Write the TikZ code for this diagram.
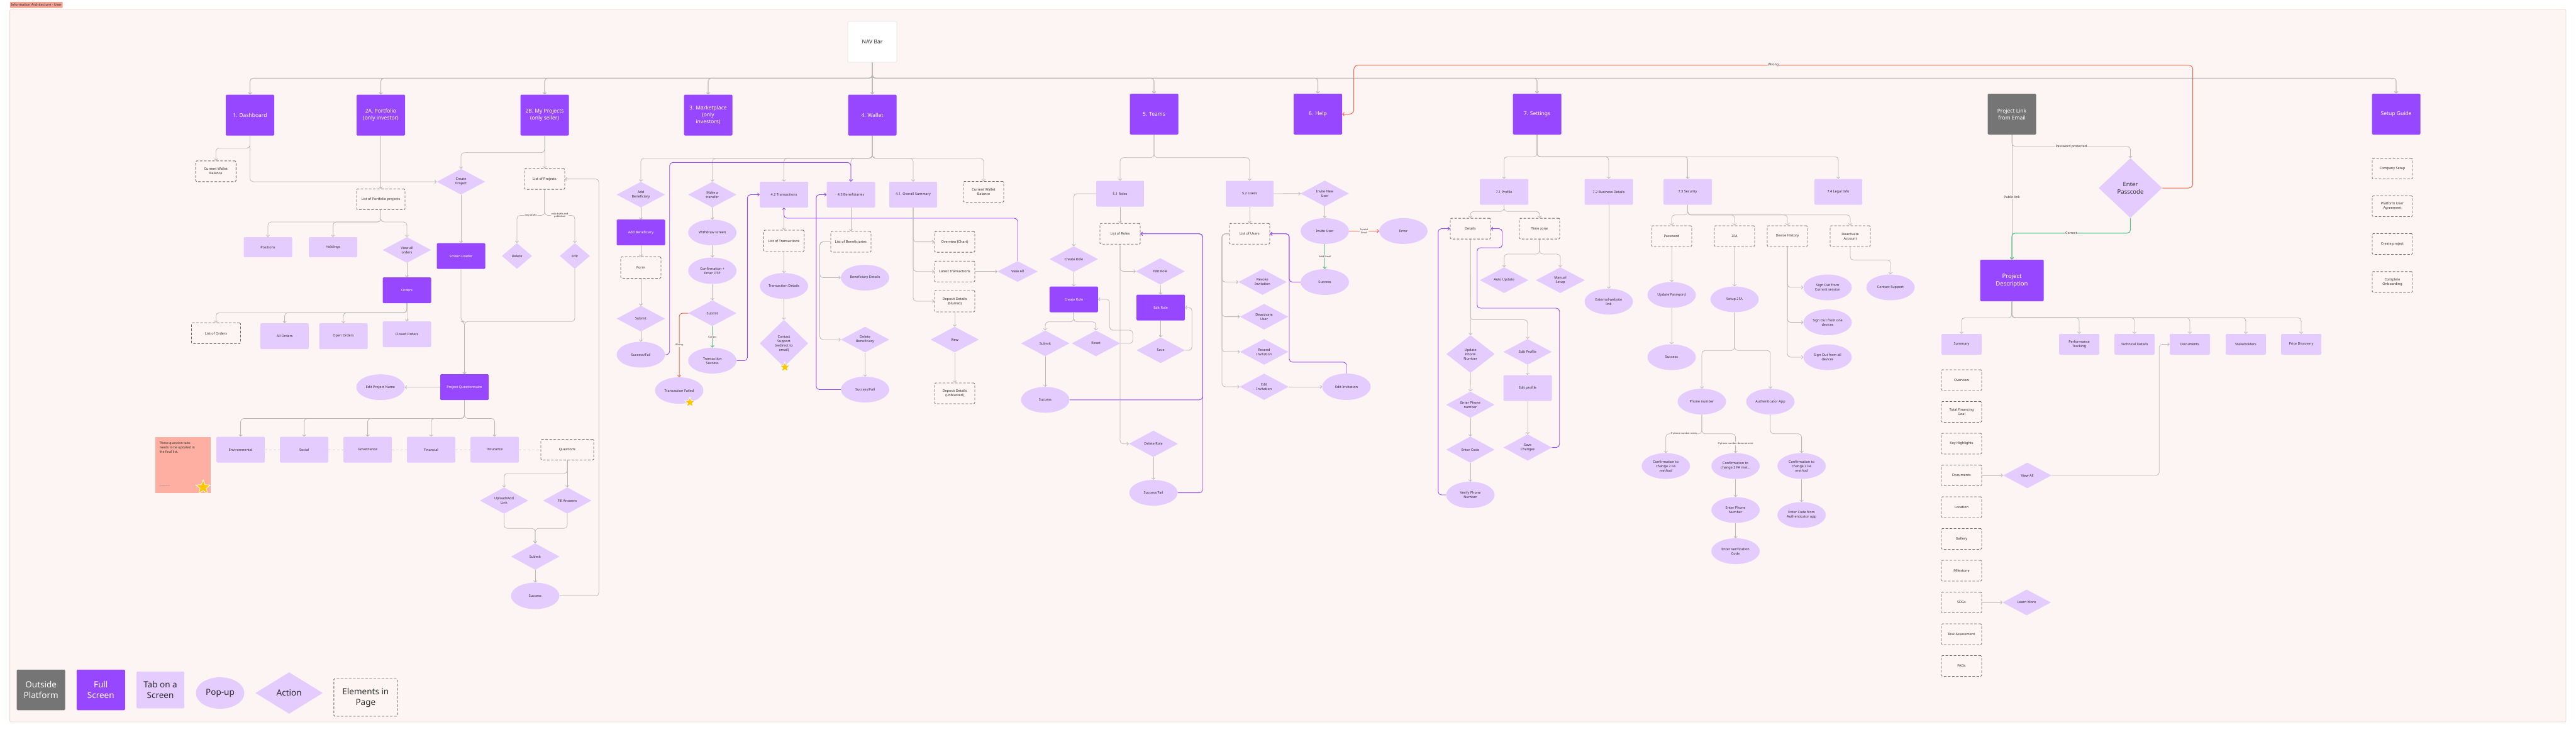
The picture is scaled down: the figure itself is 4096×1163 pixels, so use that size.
\documentclass[tikz,border=0pt]{standalone}
\usepackage{fontspec}
\setmainfont{Noto Sans}
\usetikzlibrary{shapes.geometric,arrows.meta,calc}
\pgfdeclarelayer{back}\pgfdeclarelayer{bg}
\pgfsetlayers{back,bg,main}
\definecolor{bgc}{HTML}{FDF5F3}
\definecolor{framec}{HTML}{F6D6D0}
\definecolor{fullc}{HTML}{9747FF}
\definecolor{tabc}{HTML}{E4CCFF}
\definecolor{grayc}{HTML}{757575}
\definecolor{dashc}{HTML}{6B6B6B}
\definecolor{linec}{HTML}{B9B9B9}
\definecolor{redc}{HTML}{F26B4F}
\definecolor{greenc}{HTML}{5CC08A}
\definecolor{txtc}{HTML}{2B2B2B}
\definecolor{notec}{HTML}{FFAFA2}
\definecolor{tagc}{HTML}{F4A294}
\definecolor{starc}{HTML}{FFC700}
\definecolor{navc}{HTML}{E2E2E2}
\definecolor{tdash}{HTML}{D8D0D0}
\begin{document}
\begin{tikzpicture}[x=1pt,y=-1pt,
 nbase/.style={align=center, inner sep=1pt, text=txtc, font=\fontsize{5.5}{7}\selectfont},
 sz/.style 2 args={minimum width=#1pt, minimum height=#2pt},
 full/.style={nbase, rectangle, rounded corners=1.5pt, fill=fullc, text=white, sz={77}{41}},
 topbox/.style={full, sz={77}{65}, font=\fontsize{8.5}{11}\selectfont},
 tab/.style={nbase, rectangle, rounded corners=1.5pt, fill=tabc, sz={77}{41}},
 pop/.style={nbase, ellipse, fill=tabc, sz={77}{41}, inner sep=0pt},
 act/.style={nbase, diamond, fill=tabc, sz={77}{41}, inner sep=0pt, aspect=2},
 elem/.style={nbase, rectangle, rounded corners=1.5pt, draw=dashc, fill=bgc, dash pattern=on 4pt off 2.5pt, line width=0.9pt, sz={64}{33}},
 con/.style={draw=linec, line width=0.8pt, rounded corners=5pt, -{Straight Barb[length=2.6pt,width=5.5pt]}},
 bus/.style={con, line width=1.1pt},
 pcon/.style={con, draw=fullc, line width=0.9pt},
 rcon/.style={con, draw=redc, line width=1pt},
 gcon/.style={con, draw=greenc, line width=1.1pt},
 lbl/.style={fill=bgc, inner sep=0.8pt, text=txtc, align=center, font=\fontsize{3.8}{4.6}\selectfont},
 lblb/.style={lbl, font=\fontsize{5.3}{6}\selectfont},
 tabline/.style={draw=tdash, line width=0.9pt, dash pattern=on 4pt off 3pt},
 starn/.style={star, star points=5, star point ratio=2.3, fill=starc, draw=white, line width=0.8pt, inner sep=0pt, minimum size=17pt}
]
\useasboundingbox (0,0) rectangle (4096,1163);
\begin{pgfonlayer}{back}
\fill[white] (0,0) rectangle (4096,1163);
\filldraw[fill=bgc, draw=framec, line width=0.8pt, rounded corners=2pt] (15.6,15.3) rectangle (4080,1148);
\end{pgfonlayer}

% title tag
\node[fill=tagc, rounded corners=1pt, inner sep=1.5pt, anchor=west, font=\fontsize{5.5}{6}\selectfont, minimum height=9.6pt, text=txtc] (tag) at (15.6,7.8) {Information Architecture - User};

% top level
\node[nbase, rectangle, fill=white, draw=navc, line width=0.6pt, rounded corners=1.5pt, sz={78}{65}, font=\fontsize{8.5}{10}\selectfont] (nav) at (1387,66.5) {NAV Bar};
\node[topbox] (dash) at (397.5,183) {1. Dashboard};
\node[topbox] (port) at (605.5,183) {2A. Portfolio\\(only investor)};
\node[topbox] (myp) at (866,183) {2B. My Projects\\(only seller)};
\node[topbox] (mkt) at (1126,183) {3. Marketplace\\(only\\investors)};
\node[topbox] (wal) at (1387,183) {4. Wallet};
\node[topbox] (team) at (1835,181.5) {5. Teams};
\node[topbox] (help) at (2095.5,181.5) {6. Help};
\node[topbox] (sett) at (2444,181.5) {7. Settings};
\node[topbox, fill=grayc] (plink) at (3199,181.5) {Project Link\\from Email};
\node[topbox] (setup) at (3810,181.5) {Setup Guide};

% Dashboard
\node[elem] (cwb1) at (343.3,272.3) {Current Wallet\\Balance};
% Portfolio
\node[elem, sz={77}{33}] (lpp) at (605.5,317) {List of Portfolio projects};
\node[tab, sz={77}{32}] (pos) at (426,393) {Positions};
\node[tab, sz={77}{32}] (hold) at (529.6,393) {Holdings};
\node[act] (vao) at (647,397.5) {View all\\orders};
\node[full] (orders) at (647,461.5) {Orders};
\node[elem, sz={78}{33}] (lo) at (343.5,530) {List of Orders};
\node[tab] (ao) at (452.6,534.5) {All Orders};
\node[tab] (oo) at (546,534.5) {Open Orders};
\node[tab] (co) at (647,531.5) {Closed Orders};
% My projects
\node[act] (cp) at (733,289) {Create\\Project};
\node[elem] (lop) at (866,284.6) {List of Projects};
\node[act, sz={48}{41}] (del) at (822,407) {Delete};
\node[act, sz={48}{41}] (edt) at (914,407) {Edit};
\node[full] (sl) at (733,407) {Screen Loader};
\node[full] (pq) at (738.5,615.7) {Project Questionnaire};
\node[pop] (epn) at (605,615.7) {Edit Project Name};
\node[tab] (env) at (382.6,715) {Environmental};
\node[tab] (soc) at (483.6,715) {Social};
\node[tab] (gov) at (584.6,715) {Governance};
\node[tab] (fin) at (685.5,715) {Financial};
\node[tab] (ins) at (786.6,715) {Insurance};
\node[elem, sz={84}{33}] (qs) at (902,715) {Questions};
\node[act, sz={77}{42}] (ual) at (801.5,796) {Upload/Add\\Link};
\node[act, sz={77}{42}] (fa) at (902,796) {Fill Answers};
\node[act, sz={77}{42}] (qsub) at (851,885) {Submit};
\node[pop, sz={77}{42}] (qsucc) at (851,947.5) {Success};
% sticky note
\node[fill=notec, minimum width=88pt, minimum height=89pt, inner sep=0pt] (note) at (290.6,739) {};
\node[anchor=north west, align=left, font=\fontsize{5.2}{7}\selectfont, text=txtc, inner sep=0pt] (notetxt) at (253.3,702.5) {These question tabs\\needs to be updated in\\the final list.};
\node[anchor=west, font=\fontsize{3}{3.5}\selectfont, text=black!45, inner sep=0pt] (noteauth) at (253.3,773) {pradyumna};
\node[starn, minimum size=24pt] (st1) at (323,775) {};

% Wallet
\node[act] (ab) at (1019,309.5) {Add\\Beneficiary};
\node[act] (mt) at (1132.7,309.5) {Make a\\transfer};
\node[tab] (t42) at (1246.5,309.5) {4.2 Transactions};
\node[tab] (b43) at (1353,309.5) {4.3 Beneficiaries};
\node[tab, sz={76}{41}] (s41) at (1452,309.5) {4.1. Overall Summary};
\node[elem] (cwb2) at (1564,305) {Current Wallet\\Balance};
\node[full] (abf) at (1019,369.7) {Add Beneficiary};
\node[elem, sz={64}{34}] (form) at (1019,425.5) {Form};
\node[act] (absub) at (1019,506.7) {Submit};
\node[pop] (absf) at (1019,564) {Success/Fail};
\node[pop] (ws) at (1132.7,369.7) {Withdraw screen};
\node[pop, sz={77}{42}] (conf) at (1132.7,430.5) {Confirmation +\\Enter OTP};
\node[act] (msub) at (1132.7,498) {Submit};
\node[pop] (ts) at (1132.7,573.5) {Transaction\\Success};
\node[pop, sz={77}{42}] (tf) at (1080,621) {Transaction Failed};
\node[starn] (st2) at (1097,640) {};
\node[elem, sz={64}{34}] (lot) at (1246.5,383) {List of Transactions};
\node[pop] (td) at (1246.5,454.7) {Transaction Details};
\node[act, sz={77}{75}, aspect=1] (cs) at (1246.5,546) {Contact\\Support\\(redirect to\\email)};
\node[starn] (st3) at (1248,584) {};
\node[elem] (lob) at (1353,384.5) {List of Beneficiaries};
\node[pop] (bd) at (1375.5,441.5) {Beneficiary Details};
\node[act] (dbn) at (1375.5,540) {Delete\\Beneficiary};
\node[pop] (bsf) at (1375.5,619.5) {Success/Fail};
\node[elem] (ovc) at (1518,384.6) {Overview (Chart)};
\node[elem] (lt) at (1518,431.7) {Latest Transactions};
\node[elem, sz={64}{34}] (ddb) at (1518,479) {Deposit Details\\(blurred)};
\node[act, sz={64}{33}] (va) at (1618,431.7) {View All};
\node[act] (vw) at (1518,540) {View};
\node[elem] (ddu) at (1518,625.5) {Deposit Details\\(unblurred)};

% Teams
\node[tab, sz={76}{41}] (r51) at (1781,308) {5.1 Roles};
\node[tab, sz={76}{41}] (u52) at (1987,308) {5.2 Users};
\node[elem] (lor) at (1781,371.7) {List of Roles};
\node[act] (crd) at (1707.3,412) {Create Role};
\node[full] (crf) at (1707.3,476) {Create Role};
\node[act] (rsub) at (1662,546) {Submit};
\node[act] (rres) at (1742.6,546) {Reset};
\node[pop] (rsucc) at (1662,635.8) {Success};
\node[act, sz={78}{42}] (edr) at (1845,431.5) {Edit Role};
\node[full] (edrf) at (1845.6,489) {Edit Role};
\node[act] (save) at (1845.6,557) {Save};
\node[act, sz={78}{42}] (dlr) at (1834,705.7) {Delete Role};
\node[pop] (dsf) at (1834,783.6) {Success/Fail};
\node[elem] (lou) at (1987,371.7) {List of Users};
\node[act] (inu) at (2106.5,307.7) {Invite New\\User};
\node[pop] (iu) at (2106.5,367.4) {Invite User};
\node[pop] (err) at (2231.5,367.4) {Error};
\node[pop] (usucc) at (2106.5,448.5) {Success};
\node[act] (ri) at (2007.5,448.4) {Revoke\\Invitation};
\node[act] (du) at (2010,503.6) {Deactivate\\User};
\node[act] (rsi) at (2010,559.5) {Resend\\Invitation};
\node[act, sz={78}{42}] (ei) at (2010,615) {Edit\\Invitation};
\node[pop, sz={77}{42}] (eie) at (2141,615) {Edit Invitation};

% Settings
\node[tab] (p71) at (2391.5,305) {7.1 Profile};
\node[tab] (b72) at (2558,305) {7.2 Business Details};
\node[tab] (s73) at (2683.5,305) {7.3 Security};
\node[tab, sz={76}{41}] (l74) at (2923,305) {7.4 Legal Info};
\node[pop] (ewl) at (2558,479.6) {External website\\link};
\node[elem] (det) at (2338,363.6) {Details};
\node[elem] (tz) at (2448,363.6) {Time zone};
\node[act] (au) at (2391.6,445.5) {Auto Update};
\node[act, sz={78}{41}] (ms) at (2481,445.5) {Manual\\Setup};
\node[act, sz={77}{60}] (upn) at (2338.2,563) {Update\\Phone\\Number};
\node[act] (ep) at (2429,559.5) {Edit Profile};
\node[tab] (epf) at (2429,617) {Edit profile};
\node[act, sz={77}{42}] (sc) at (2429,711.6) {Save\\Changes};
\node[act, sz={77}{42}] (epn2) at (2338,643.6) {Enter Phone\\number};
\node[act, sz={77}{42}] (ec) at (2338,715) {Enter Code};
\node[pop, sz={77}{42}] (vpn) at (2338,787) {Verify Phone\\Number};
\node[elem] (pw) at (2658,375.5) {Password};
\node[elem] (fa2) at (2758,375.5) {2FA};
\node[elem] (dh) at (2842,375.5) {Device History};
\node[elem] (da) at (2942,375.5) {Deactivate\\Account};
\node[pop] (up) at (2658,469) {Update Password};
\node[pop] (psucc) at (2658,568) {Success};
\node[pop] (s2fa) at (2758,476) {Setup 2FA};
\node[pop] (phn) at (2706,638.6) {Phone number};
\node[pop] (aap) at (2815,638.6) {Authenticator App};
\node[pop] (c2a) at (2648.7,741) {Confirmation to\\change 2 FA\\method};
\node[pop] (c2b) at (2759.6,741) {Confirmation to\\change 2 FA met...};
\node[pop] (c2c) at (2864.6,741) {Confirmation to\\change 2 FA\\method};
\node[pop] (epn3) at (2759.6,811) {Enter Phone\\Number};
\node[pop] (evc) at (2759.6,876.5) {Enter Verification\\Code};
\node[pop] (eca) at (2864.6,819) {Enter Code from\\Authenticator app};
\node[pop] (so1) at (2906,457) {Sign Out from\\Current session};
\node[pop] (so2) at (2906,512.6) {Sign Out from one\\devices};
\node[pop] (so3) at (2906,568) {Sign Out from all\\devices};
\node[pop] (csup) at (3006,457) {Contact Support};

% Project link
\node[act, sz={101}{95}, font=\fontsize{9.5}{12.5}\selectfont] (ep2) at (3387.5,299) {Enter\\Passcode};
\node[full, sz={101}{66}, font=\fontsize{9.5}{12.5}\selectfont] (pd) at (3199,446) {Project\\Description};
\node[tab, sz={64}{33}] (sum) at (3119,547.5) {Summary};
\node[tab, sz={64}{33}] (perf) at (3306,547.5) {Performance\\Tracking};
\node[tab, sz={64}{33}] (tech) at (3394,547.5) {Technical Details};
\node[tab, sz={64}{33}] (docs) at (3482,547.5) {Documents};
\node[tab, sz={64}{33}] (stak) at (3571,547.5) {Stakeholders};
\node[tab, sz={64}{33}] (price) at (3659,547.5) {Price Discovery};
\node[elem] (ov) at (3119,604.5) {Overview};
\node[elem] (tfg) at (3119,655) {Total Financing\\Goal};
\node[elem] (kh) at (3119,705.5) {Key Highlights};
\node[elem] (dcs) at (3119,756) {Documents};
\node[elem] (loc) at (3119,806.5) {Location};
\node[elem] (gal) at (3119,857) {Gallery};
\node[elem] (mil) at (3119,907.5) {Milestone};
\node[elem] (sdg) at (3119,958) {SDGs};
\node[elem] (ra) at (3119,1008.5) {Risk Assessment};
\node[elem] (faq) at (3119,1059) {FAQs};
\node[act] (vall) at (3223.5,756) {View All};
\node[act] (lm) at (3222.5,958) {Learn More};

% Setup guide
\node[elem] (csu) at (3804,268) {Company Setup};
\node[elem] (pua) at (3804,328) {Platform User\\Agreement};
\node[elem] (crp) at (3804,388) {Create project};
\node[elem] (cob) at (3804,448.3) {Complete\\Onboarding};

% Legend
\node[full, fill=grayc, sz={77}{64.5}, font=\fontsize{13.5}{17}\selectfont] (lg1) at (65.2,1097) {Outside\\Platform};
\node[full, sz={77}{64.5}, font=\fontsize{13.5}{17}\selectfont] (lg2) at (160.3,1097) {Full\\Screen};
\node[tab, sz={76}{58.5}, font=\fontsize{13.5}{17}\selectfont] (lg3) at (255,1097) {Tab on a\\Screen};
\node[pop, sz={77}{50}, font=\fontsize{13.5}{17}\selectfont] (lg4) at (350,1102) {Pop-up};
\node[act, sz={107}{66}, font=\fontsize{13.5}{17}\selectfont] (lg5) at (459.7,1102) {Action};
\node[elem, sz={101}{60}, font=\fontsize{13.5}{17}\selectfont] (lg6) at (581.4,1109) {Elements in\\Page};

\begin{pgfonlayer}{bg}
% nav bus
\foreach \t in {dash,port,myp,mkt,team,help,sett,setup}{
  \draw[bus] (nav.south) -- ++(0,25) -| (\t.north);
}
\draw[bus] (nav.south) -- (wal.north);

% dashboard
\draw[con] (dash.south) -- ++(0,20) -| (cwb1.north);
\draw[con] (dash.south) |- (cp.west);
% portfolio
\draw[con] (port.south) -- (lpp.north);
\foreach \t in {pos,hold,vao}{\draw[con] (lpp.south) -- ++(0,19) -| (\t.north);}
\draw[con] (vao.south) -- (orders.north);
\foreach \t in {lo,ao,oo,co}{\draw[con] (orders.south) -- ++(0,15) -| (\t.north);}
% my projects
\draw[con] (myp.south) -- ++(0,27) -| (cp.north);
\draw[con] (myp.south) -- (lop.north);
\draw[con] (lop.south) -- ++(0,41) -| node[lbl,pos=0.25]{only drafts} (del.north);
\draw[con] (lop.south) -- ++(0,41) -| node[lbl,pos=0.25]{only drafts and\\published} (edt.north);
\draw[con] (cp.south) -- (sl.north);
\draw[con] (sl.south) -- ++(0,83.5) -| (pq.north);
\draw[con] (edt.south) -- ++(0,83.5) -| (pq.north);
\draw[con] (qsucc.east) -- ++(62.5,0) |- (lop.east);
\draw[con] (pq.west) -- (epn.east);
\foreach \t in {env,soc,gov,fin,ins}{\draw[con] (pq.south) -- ++(0,29) -| (\t.north);}
\draw[tabline] (env.east) -- (soc.west);
\draw[tabline] (soc.east) -- (gov.west);
\draw[tabline] (gov.east) -- (fin.west);
\draw[tabline] (fin.east) -- (ins.west);
\draw[tabline] (ins.east) -- (qs.west);
\draw[con] (qs.south) -- ++(0,21) -| (ual.north);
\draw[con] (qs.south) -- (fa.north);
\draw[con] (ual.south) -- ++(0,23) -| (qsub.north);
\draw[con] (fa.south) -- ++(0,23) -| (qsub.north);
\draw[con] (qsub.south) -- (qsucc.north);

% wallet
\foreach \t in {ab,mt,t42,b43,s41,cwb2}{\draw[con] (wal.south) -- ++(0,36) -| (\t.north);}
\draw[con] (ab.south) -- (abf.north);
\draw[con] (abf.south) -- (form.north);
\draw[con] (form.south) -- (absub.north);
\draw[con] (absub.south) -- (absf.north);
\draw[pcon] (absf.east) -- ++(7,0) -- ++(0,-305.7) -| (b43.north);
\draw[con] (mt.south) -- (ws.north);
\draw[con] (ws.south) -- (conf.north);
\draw[con] (conf.south) -- (msub.north);
\draw[gcon] (msub.south) -- node[lbl]{Correct} (ts.north);
\draw[rcon] (msub.west) -| node[lbl,pos=0.75]{Wrong} (tf.north);
\draw[pcon] (ts.east) -- ++(17,0) |- (t42.west);
\draw[con] (t42.south) -- (lot.north);
\draw[pcon] (va.north) -- ++(0,-68) -| (t42.south);
\draw[con] (lot.south) -- (td.north);
\draw[con] (td.south) -- (cs.north);
\draw[con] (b43.south) -- (lob.north);
\draw[con] (lob.west) -- ++(-17,0) |- (bd.west);
\draw[con] (lob.west) -- ++(-17,0) |- (dbn.west);
\draw[con] (dbn.south) -- (bsf.north);
\draw[pcon] (bsf.west) -- ++(-39,0) |- (b43.west);
\draw[con] (s41.south) |- (ovc.west);
\draw[con] (s41.south) |- (lt.west);
\draw[con] (s41.south) |- (ddb.west);
\draw[con] (lt.east) -- (va.west);
\draw[con] (ddb.south) -- (vw.north);
\draw[con] (vw.south) -- (ddu.north);

% teams
\draw[con] (team.south) -- ++(0,36.5) -| (r51.north);
\draw[con] (team.south) -- ++(0,36.5) -| (u52.north);
\draw[con] (r51.south) -- (lor.north);
\draw[con] (r51.west) -| (crd.north);
\draw[con] (crd.south) -- (crf.north);
\draw[con] (crf.south) -- ++(0,15) -| (rsub.north);
\draw[con] (crf.south) -- ++(0,15) -| (rres.north);
\draw[con] (rres.east) -- ++(20,0) -- ++(0,-21) -- ++(-37,0) |- (crf.east);
\draw[con] (rsub.south) -- (rsucc.north);
\draw[pcon] (rsucc.east) -- ++(211.5,0) |- (lor.east);
\draw[con] (lor.south) |- (edr.west);
\draw[con] (edr.south) -- (edrf.north);
\draw[con] (edrf.south) -- (save.north);
\draw[con] (save.east) -- ++(11,0) |- (edrf.east);
\draw[con] (lor.south) |- (dlr.west);
\draw[con] (dlr.south) -- (dsf.north);
\draw[pcon] (dsf.east) -- ++(39.5,0) |- (lor.east);
\draw[con] (u52.south) -- (lou.north);
\draw[con] (u52.east) -- (inu.west);
\draw[con] (inu.south) -- (iu.north);
\draw[rcon] (iu.east) -- node[lbl]{Invalid\\Email} (err.west);
\draw[gcon] (iu.south) -- node[lbl]{Valid Email} (usucc.north);
\draw[pcon] (usucc.west) -- ++(-18,0) |- (lou.east);
\foreach \t in {ri,du,rsi,ei}{\draw[con] (lou.west) -- ++(-11.5,0) |- (\t.west);}
\draw[con] (ei.east) -- (eie.west);
\draw[pcon] (eie.north) -- ++(0,-18) -- ++(-91,0) |- (lou.east);

% settings
\foreach \t in {p71,b72,s73,l74}{\draw[con] (sett.south) -- ++(0,35) -| (\t.north);}
\draw[con] (b72.south) -- (ewl.north);
\draw[con] (p71.south) -- ++(0,10.5) -| (det.north);
\draw[con] (p71.south) -- ++(0,10.5) -| (tz.north);
\draw[con] (tz.south) -- ++(0,23.5) -| (au.north);
\draw[con] (tz.south) -- ++(0,23.5) -| (ms.north);
\draw[con] (det.south) -- (upn.north);
\draw[con] (det.south) -- ++(0,128) -| (ep.north);
\draw[con] (ep.south) -- (epf.north);
\draw[con] (epf.south) -- (sc.north);
\draw[pcon] (sc.east) -- ++(12,0) -- ++(0,-221.6) -- ++(-131,0) -- ++(0,-96) -- ++(40,0) |- (det.east);
\draw[con] (upn.south) -- (epn2.north);
\draw[con] (epn2.south) -- (ec.north);
\draw[con] (ec.south) -- (vpn.north);
\draw[pcon] (vpn.west) -- ++(-12.5,0) |- (det.west);
\foreach \t in {pw,fa2,dh,da}{\draw[con] (s73.south) -- ++(0,16) -| (\t.north);}
\draw[con] (pw.south) -- (up.north);
\draw[con] (up.south) -- (psucc.north);
\draw[con] (fa2.south) -- (s2fa.north);
\draw[con] (s2fa.south) -- ++(0,60.5) -| (phn.north);
\draw[con] (s2fa.south) -- ++(0,60.5) -| (aap.north);
\draw[con] (phn.south) -- ++(0,30.5) -| node[lbl,pos=0.25]{If phone number exists} (c2a.north);
\draw[con] (phn.south) -- ++(0,30.5) -| node[lbl,pos=0.75]{If phone number does not exist} (c2b.north);
\draw[con] (aap.south) -- ++(0,30.5) -| (c2c.north);
\draw[con] (c2b.south) -- (epn3.north);
\draw[con] (epn3.south) -- (evc.north);
\draw[con] (c2c.south) -- (eca.north);
\draw[con] (dh.south) |- (so1.west);
\draw[con] (dh.south) |- (so2.west);
\draw[con] (dh.south) |- (so3.west);
\draw[con] (da.south) -- ++(0,21) -| (csup.north);

% project link
\draw[con] (plink.south) -- ++(0,18.5) -| node[lblb,pos=0.25]{Password protected} (ep2.north);
\draw[con] (plink.south) -- node[lblb]{Public link} (pd.north);
\draw[gcon] (ep2.south) -- ++(0,24) -| node[lblb,pos=0.25]{Correct} (pd.north);
\draw[rcon, rounded corners=7pt] (ep2.east) -- ++(48.5,0) -- ++(0,-195.5) -- node[lblb]{Wrong} ++(-1334,0) |- (help.east);
\foreach \t in {sum,perf,tech,docs,stak,price}{\draw[con] (pd.south) -- ++(0,26) -| (\t.north);}
\draw[con] (dcs.east) -- (vall.west);
\draw[con] (vall.east) -- ++(171,0) |- (docs.west);
\draw[con] (sdg.east) -- (lm.west);
\end{pgfonlayer}
\end{tikzpicture}
\end{document}
